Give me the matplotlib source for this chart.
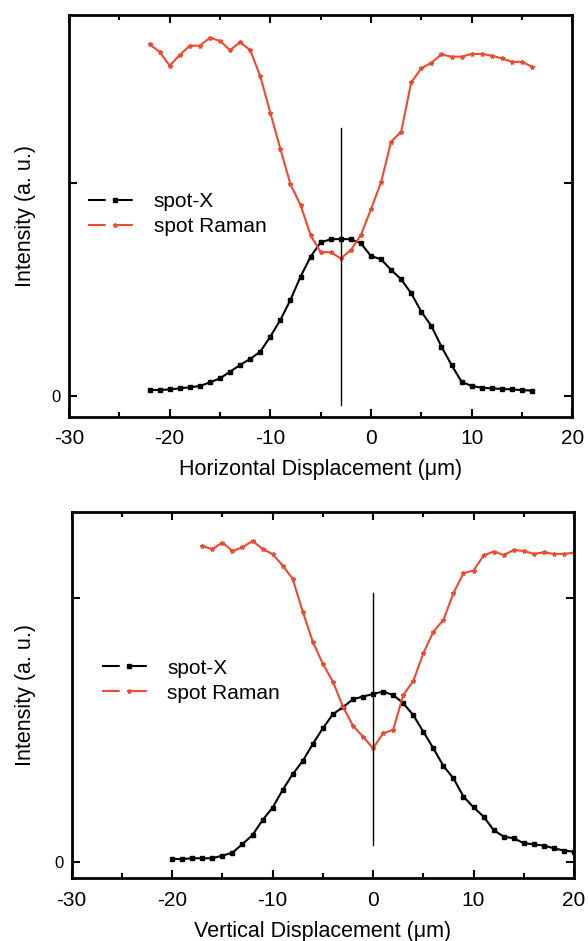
import matplotlib
matplotlib.use("Agg")
import matplotlib.pyplot as plt
from matplotlib.lines import Line2D
from matplotlib.ticker import MultipleLocator, FixedLocator, FixedFormatter

plt.rcParams['font.family'] = ['Liberation Sans', 'DejaVu Sans']

# ---------------- data: top panel (horizontal scan) ----------------
h_x = list(range(-22, 17))
h_spot_x = [0.028, 0.028, 0.031, 0.036, 0.041, 0.047, 0.064, 0.083, 0.114, 0.146,
            0.174, 0.208, 0.279, 0.357, 0.451, 0.560, 0.654, 0.721, 0.736, 0.737,
            0.736, 0.717, 0.657, 0.642, 0.592, 0.548, 0.482, 0.396, 0.329, 0.232,
            0.146, 0.067, 0.047, 0.039, 0.036, 0.033, 0.031, 0.028, 0.025]
h_raman = [1.651, 1.616, 1.551, 1.601, 1.645, 1.645, 1.682, 1.667, 1.624, 1.661,
           1.624, 1.502, 1.330, 1.160, 0.994, 0.897, 0.756, 0.675, 0.675, 0.646,
           0.685, 0.756, 0.877, 1.003, 1.194, 1.241, 1.473, 1.538, 1.565, 1.604,
           1.593, 1.593, 1.606, 1.606, 1.598, 1.585, 1.569, 1.569, 1.546]
h_center = -3
h_center_span = [-0.042, 1.257]

# ---------------- data: bottom panel (vertical scan) ----------------
v_x_spot = list(range(-20, 21))
v_spot_x = [0.011, 0.011, 0.014, 0.014, 0.014, 0.024, 0.035, 0.068, 0.102, 0.159,
            0.206, 0.273, 0.333, 0.383, 0.447, 0.507, 0.560, 0.587, 0.617, 0.627,
            0.637, 0.646, 0.633, 0.602, 0.557, 0.494, 0.431, 0.364, 0.317, 0.248,
            0.207, 0.172, 0.121, 0.096, 0.090, 0.071, 0.067, 0.062, 0.052, 0.043,
            0.039]
v_x_raman = list(range(-17, 21))
v_raman = [1.198, 1.186, 1.211, 1.179, 1.193, 1.217, 1.187, 1.167, 1.124, 1.073,
           0.949, 0.835, 0.751, 0.684, 0.589, 0.516, 0.475, 0.431, 0.488, 0.501,
           0.633, 0.686, 0.791, 0.873, 0.918, 1.019, 1.095, 1.105, 1.162, 1.177,
           1.164, 1.183, 1.179, 1.168, 1.174, 1.168, 1.168, 1.173]
v_center = 0
v_center_span = [0.064, 1.021]

x_ticks = [-30, -20, -10, 0, 10, 20]
x_tick_labels = ['-30', '-20', '-10', '0', '10', '20']
y_ticks = [0, 1]
y_tick_labels = ['0', '']
series_labels = ['spot-X', 'spot Raman']
x_labels = ['Horizontal Displacement (\u03bcm)', 'Vertical Displacement (\u03bcm)']
y_label = 'Intensity (a. u.)'

RED = '#EE4A2F'
FS = 15.5

fig = plt.figure(figsize=(5.88, 9.41), dpi=100)
ax1 = fig.add_axes([0.1173, 0.5572, 0.856, 0.4269])
ax2 = fig.add_axes([0.1219, 0.0669, 0.8543, 0.3893])


def style(ax, ylim, xlabel):
    ax.set_xlim(-30, 20)
    ax.set_ylim(*ylim)
    ax.xaxis.set_major_locator(FixedLocator(x_ticks))
    ax.xaxis.set_major_formatter(FixedFormatter(x_tick_labels))
    ax.xaxis.set_minor_locator(MultipleLocator(5))
    ax.yaxis.set_major_locator(FixedLocator(y_ticks))
    ax.yaxis.set_major_formatter(FixedFormatter(y_tick_labels))
    ax.tick_params(which='both', direction='in', top=True, right=True, width=1.5)
    ax.tick_params(axis='x', labelsize=15, pad=9)
    ax.tick_params(which='major', length=6)
    ax.tick_params(which='minor', length=3.5)
    ax.tick_params(axis='y', labelsize=12, pad=6)
    for s in ax.spines.values():
        s.set_linewidth(2.0)
    ax.set_xlabel(xlabel, fontsize=FS, labelpad=8)
    ax.set_ylabel(y_label, fontsize=FS)


def legend(ax, anchor):
    handles = [
        Line2D([], [], color='black', lw=1.5, linestyle=(0, (8.5, 4.5)), marker='s',
               markersize=3.2),
        Line2D([], [], color=RED, lw=1.5, linestyle=(0, (8.5, 4.5)), marker='*',
               markersize=3.2),
    ]
    ax.legend(handles, series_labels, loc='upper left', bbox_to_anchor=anchor,
              bbox_transform=ax.transAxes, frameon=False,
              fontsize=15, handlelength=2.6, numpoints=1, handletextpad=0.55,
              labelspacing=0.3, borderaxespad=0)


# top panel
ax1.plot(h_x, h_spot_x, color='black', lw=1.5, marker='s', markersize=3.2)
ax1.plot(h_x, h_raman, color=RED, lw=1.5, marker='*', markersize=3.2)
ax1.plot([h_center, h_center], h_center_span, color='black', lw=1.0)
style(ax1, (-0.097, 1.789), x_labels[0])
legend(ax1, (0.021, 0.58))
ax1.yaxis.set_label_coords(-0.0665, 0.5)

# bottom panel
ax2.plot(v_x_spot, v_spot_x, color='black', lw=1.5, marker='s', markersize=3.2)
ax2.plot(v_x_raman, v_raman, color=RED, lw=1.5, marker='*', markersize=3.2)
ax2.plot([v_center, v_center], v_center_span, color='black', lw=1.0)
style(ax2, (-0.061, 1.328), x_labels[1])
legend(ax2, (0.043, 0.622))
ax2.yaxis.set_label_coords(-0.072, 0.5)

fig.savefig('out.png', dpi=100)
